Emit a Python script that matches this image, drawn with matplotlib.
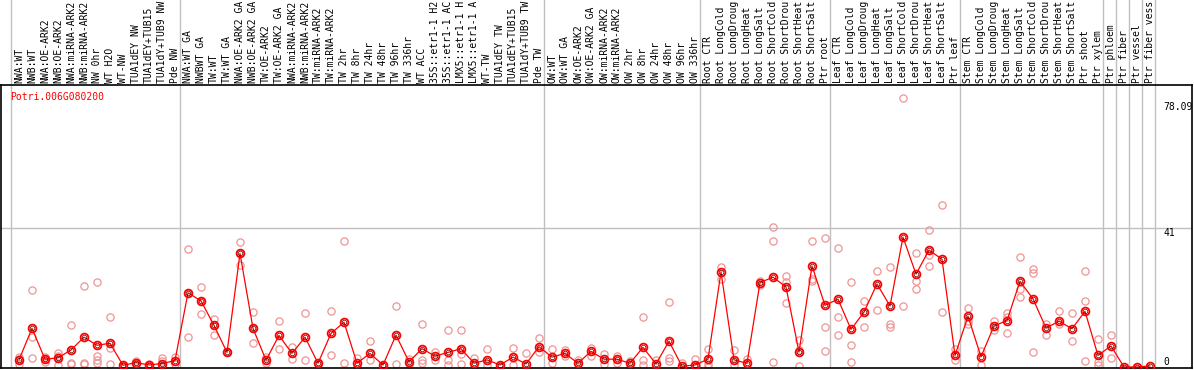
import matplotlib
matplotlib.use('Agg')
import matplotlib.pyplot as plt

# 样本标签
labels = [
    'NWA:WT', 'NWB:WT', 'NWA:OE-ARK2', 'NWB:OE-ARK2', 'NWA:miRNA-ARK2', 'NWB:miRNA-ARK2',
    'NW 0hr', 'WT H2O', 'WT-NW', 'TUA1dEY NW', 'TUA1dEY+TUB15', 'TUA1dY+TUB9 NW', 'Pde NW',
    'NWA:WT GA', 'NWBWT GA', 'TW:WT', 'TW:WT GA', 'NWA:OE-ARK2 GA', 'NWB:OE-ARK2 GA',
    'TW:OE-ARK2', 'TW:OE-ARK2 GA', 'NWA:miRNA-ARK2', 'NWB:miRNA-ARK2', 'TW:miRNA-ARK2',
    'TW:miRNA-ARK2', 'TW 2hr', 'TW 8hr', 'TW 24hr', 'TW 48hr', 'TW 96hr', 'TW 336hr', 'WT ACC',
    '35S::etr1-1 H2', '35S::etr1-1 AC', 'LMX5::etr1-1 H', 'LMX5::etr1-1 A', 'WT-TW',
    'TUA1dEY TW', 'TUA1dEY+TUB15', 'TUA1dY+TUB9 TW', 'Pde TW',
    'OW:WT', 'OW:WT GA', 'OW:OE-ARK2', 'OW:OE-ARK2 GA', 'OW:miRNA-ARK2', 'OW:miRNA-ARK2',
    'OW 2hr', 'OW 8hr', 'OW 24hr', 'OW 48hr', 'OW 96hr', 'OW 336hr',
    'Root CTR', 'Root LongCold', 'Root LongDroug', 'Root LongHeat', 'Root LongSalt',
    'Root ShortCold', 'Root ShortDrou', 'Root ShortHeat', 'Root ShortSalt', 'Ptr root',
    'Leaf CTR', 'Leaf LongCold', 'Leaf LongDroug', 'Leaf LongHeat', 'Leaf LongSalt',
    'Leaf ShortCold', 'Leaf ShortDrou', 'Leaf ShortHeat', 'Leaf ShortSalt', 'Ptr leaf',
    'Stem CTR', 'Stem LongCold', 'Stem LongDroug', 'Stem LongHeat', 'Stem LongSalt',
    'Stem ShortCold', 'Stem ShortDrou', 'Stem ShortHeat', 'Stem ShortSalt', 'Ptr shoot',
    'Ptr xylem', 'Ptr phloem', 'Ptr fiber', 'Ptr vessel', 'Ptr fiber vess',
]

# 分组最后一列的序号 (画分隔线)
group_ends = [12, 40, 52, 62, 72, 83, 84, 85, 86, 87]

gene = 'Potri.006G080200'

# 平均值
means = [
    2.1, 11.4, 2.3, 2.7, 5.0, 8.8, 6.4, 7.0, 0.5, 1.3, 0.6, 1.0, 1.9,
    21.9, 19.5, 12.3, 4.3, 33.5, 11.4, 2.0, 9.3, 4.0, 8.8, 1.1, 9.9, 13.2, 1.1, 4.0, 0.6,
    9.4, 1.5, 5.4, 3.2, 4.3, 5.4, 1.1, 2.1, 0.6, 2.9, 0.9, 6.0,
    2.9, 4.0, 1.1, 4.6, 2.3, 2.3, 1.1, 5.8, 0.9, 7.6, 0.2, 0.6,
    2.3, 28.0, 2.1, 1.1, 24.9, 26.5, 23.6, 4.4, 29.8, 18.2,
    20.0, 11.1, 16.2, 24.5, 18.0, 38.3, 27.4, 34.5, 31.8, 3.4,
    15.0, 3.0, 12.1, 13.7, 25.3, 20.1, 11.5, 13.5, 11.3, 16.4, 3.4,
    6.2, 0.0, 0.0, 0.3,
]

# 重复样本
reps = [
    [2.9, 0.9, 2.5], [22.7, 8.8, 2.7], [2.9, 2.3, 1.5], [4.2, 0.7, 3.2], [12.3, 1.3, 0.9],
    [23.9, 1.3, 0.9], [25.1, 3.1, 2.1, 1.1], [14.7, 5.6, 0.9], [0.5, 0.3], [1.7, 0.9],
    [0.4, 0.8], [2.7, 1.7, 0.2], [2.9, 0.9],
    [34.7, 21.9, 8.8], [23.5, 19.5, 15.5], [14.3, 12.3, 9.3], [4.3, 4.3], [36.8, 33.5, 30.1],
    [16.2, 11.4, 7.0], [2.9, 1.1], [13.5, 5.2], [5.8, 2.4], [15.8, 2.1], [1.1, 0.8],
    [16.5, 3.5], [37.1, 1.3], [2.7, 0.2], [7.6, 2.1], [0.6],
    [18.0, 0.9], [2.3, 0.9], [12.7, 2.1, 1.1], [4.4, 2.1], [10.9, 2.1, 0.5], [10.9, 3.7, 0.9],
    [2.7, 0.5], [5.2, 0.5], [0.5], [5.6, 0.5], [4.1], [8.6, 4.4],
    [5.2, 1.1], [5.0, 3.2], [2.1], [5.6, 3.2], [3.7, 0.9], [3.2, 1.1], [1.7, 0.5],
    [14.8, 2.0, 0.5], [2.1], [19.1, 2.7, 1.7], [1.1], [2.4],
    [5.2, 0.9, 0.1], [29.6, 25.9], [5.0, 0.5], [2.3], [25.5, 24.1], [41.2, 37.1, 1.5],
    [26.8, 25.0, 18.8], [8.0, 5.0, 0.3], [37.1, 26.1, 25.3], [38.1, 11.7, 4.6],
    [35.1, 14.8, 9.5], [25.1, 6.6, 1.5], [19.4, 11.9], [28.2, 16.8], [29.4, 12.7, 11.7],
    [79.3, 18.0], [33.5, 25.3, 23.1], [40.4, 33.0, 29.8], [47.7, 16.2], [5.4, 2.2],
    [17.4, 13.6, 12.8], [4.6, 0.5], [13.7, 10.9], [15.8, 14.8, 9.9], [32.5, 23.1, 20.6],
    [29.0, 27.6, 4.4], [12.7, 9.3], [16.6, 12.7], [16.0, 7.8], [28.2, 19.6, 1.9],
    [8.4, 1.5, 0.7],
    [9.3, 2.7], [], [], [],
]

ytick_vals = [78.09, 41, 0]

# 画布 (像素布局)
W, H = 1194, 370
col0, colw = 19, 13          # 第一列中心像素, 列宽
top_px, bot_px = 85, 368      # 绘图区上下边
ymin, ymax = -0.3, 83.2

mono = 'DejaVu Sans Mono'
fs = 7
grey = '#c0c0c0'
red = '#ff0000'
pink = '#ee9494'

fig = plt.figure(figsize=(W / 100, H / 100), dpi=100)
xl = ((1 - col0) / colw, (1192 - col0) / colw)
axl, axw = 1 / W, 1191 / W

# 表头
axh = fig.add_axes([axl, 1 - top_px / H, axw, top_px / H])
axh.set_xlim(xl)
axh.set_ylim(0, 1)
axh.axis('off')
for i, lab in enumerate(labels):
    axh.text(i, 2 / top_px, lab, rotation=90, ha='center', va='bottom',
             fontsize=fs, family=mono, clip_on=True)

# 主图
ax = fig.add_axes([axl, (H - bot_px) / H, axw, (bot_px - top_px) / H])
ax.set_xlim(xl)
ax.set_ylim(ymin, ymax)
ax.set_xticks([])
ax.set_yticks([])
for s in ax.spines.values():
    s.set_color('black')
    s.set_linewidth(1.2)

for a in (axh, ax):
    a.axvline(-0.65, color=grey, lw=1, zorder=0)
    for k in group_ends:
        a.axvline(k + 0.4, color=grey, lw=1, zorder=0)
ax.axhline(41, color=grey, lw=1, zorder=0)

xs = list(range(len(labels)))
for i, r in enumerate(reps):
    ax.plot([i] * len(r), r, 'o', ms=5.2, mfc='none', mec=pink, mew=0.9,
            clip_on=True, zorder=2)
ax.plot(xs, means, '-', color=red, lw=0.9, zorder=3)
ax.plot(xs, means, 'o', ms=5.6, mfc='none', mec=red, mew=1.3, zorder=4)
ax.plot(xs, means, 'o', ms=3.3, mfc='none', mec='#600000', mew=0.5, zorder=5)

# y 轴数值
xt = (1163 - col0) / colw
ax.text(xt, ytick_vals[0], '%.2f' % ytick_vals[0], ha='left', va='top', fontsize=fs, family=mono)
ax.text(xt, ytick_vals[1], '%g' % ytick_vals[1], ha='left', va='top', fontsize=fs, family=mono)
ax.text(xt, ytick_vals[2], '%g' % ytick_vals[2], ha='left', va='bottom', fontsize=fs, family=mono)

fig.text(10 / W, 1 - 97 / H, gene, color=red, ha='left', va='center', fontsize=fs, family=mono)

plt.savefig('out.png', dpi=100)
